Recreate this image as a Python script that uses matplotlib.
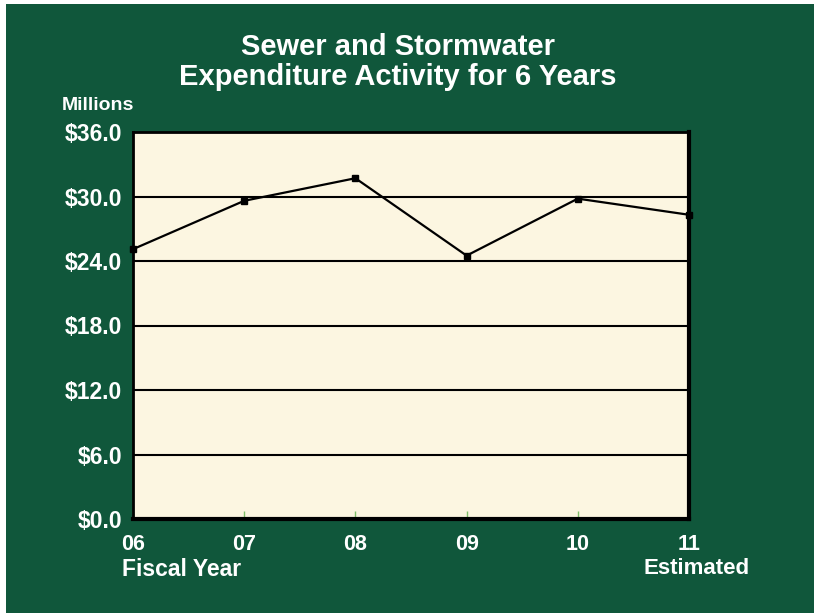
import matplotlib.pyplot as plt
from matplotlib.patches import Rectangle

years = ['06', '07', '08', '09', '10', '11']
spend = [25.1, 29.6, 31.7, 24.5, 29.8, 28.3]  # millions
yticks = [0, 6, 12, 18, 24, 30, 36]

green = '#10573b'
cream = '#fcf6e1'
plt.rcParams['font.family'] = ['Liberation Sans', 'DejaVu Sans']
plt.rcParams['font.weight'] = 'bold'

W, H = 814, 613
fig = plt.figure(figsize=(W / 100, H / 100), dpi=100, facecolor='white')
# green panel with thin white margin on top/left
fig.patches.append(Rectangle((6 / W, 0), 1, 1 - 4 / H, transform=fig.transFigure,
                             facecolor=green, edgecolor='none', zorder=-5))

ax = fig.add_axes([133 / W, 1 - 519 / H, 556 / W, 387 / H])
ax.set_zorder(2)
ax.set_facecolor(cream)
x = list(range(len(years)))
ax.plot(x, spend, color='black', lw=1.6, marker='s', ms=4.5, zorder=3, clip_on=False)
ax.set_xlim(0, 5)
ax.set_ylim(0, 36)
ax.set_yticks(yticks)
ax.set_yticklabels(['$%.1f' % v for v in yticks], color='white', fontsize=16.5, fontweight='bold')
ax.set_xticks(x)
ax.set_xticklabels(years, color='white', fontsize=15.5, fontweight='bold')
ax.tick_params(axis='y', length=0, pad=8)
ax.tick_params(axis='x', direction='in', length=6, color='#7fbf6a', width=1, pad=11)
for v in yticks[1:-1]:
    ax.axhline(v, color='black', lw=1.5, zorder=2)
for s in ax.spines.values():
    s.set_color('black')
    s.set_linewidth(2)
ax.spines['right'].set_linewidth(3)
ax.spines['bottom'].set_linewidth(3)

fig.text(398 / W, 1 - 62 / H, 'Sewer and Stormwater\nExpenditure Activity for 6 Years',
         ha='center', va='center', color='white', fontsize=21, fontweight='bold',
         linespacing=1.05)
fig.text(62 / W, 1 - 105 / H, 'Millions', ha='left', va='center', color='white',
         fontsize=14, fontweight='bold')
fig.text(122 / W, 1 - 569 / H, 'Fiscal Year', ha='left', va='center', color='white',
         fontsize=16.5, fontweight='bold')
fig.text(697 / W, 1 - 568 / H, 'Estimated', ha='center', va='center', color='white',
         fontsize=16, fontweight='bold')

fig.savefig('out.png', dpi=100, facecolor=fig.get_facecolor())
